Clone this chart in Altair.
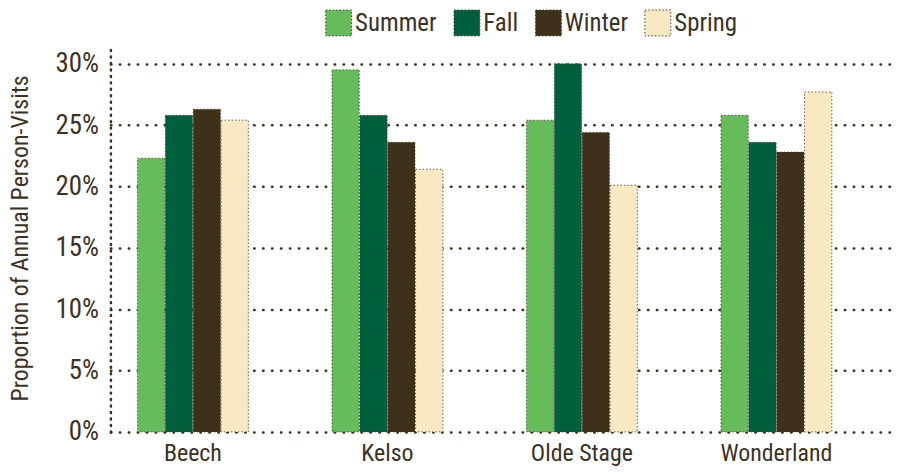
import altair as alt
import pandas as pd

sites = ["Beech", "Kelso", "Olde Stage", "Wonderland"]
seasons = ["Summer", "Fall", "Winter", "Spring"]
summer = [0.223, 0.295, 0.254, 0.258]
fall = [0.258, 0.258, 0.300, 0.236]
winter = [0.263, 0.236, 0.244, 0.228]
spring = [0.254, 0.214, 0.201, 0.277]
colors = ["#66bb5a", "#00603d", "#3f3019", "#f8e9c3"]

rows = []
for season, vals in zip(seasons, [summer, fall, winter, spring]):
    for site, v in zip(sites, vals):
        rows.append({"site": site, "season": season, "value": v})
df = pd.DataFrame(rows)

FONT = "Roboto Condensed, Liberation Sans Narrow, DejaVu Sans Condensed, sans-serif"
TXT = "#3d3222"

chart = alt.Chart(df).mark_bar(
    stroke="#4a3c2c", strokeWidth=1, strokeDash=[1.5, 2], strokeOpacity=0.8
).encode(
    x=alt.X("site:N", sort=sites, title=None,
            scale=alt.Scale(paddingInner=0.43, paddingOuter=0.232, align=0.3),
            axis=alt.Axis(labelAngle=0, ticks=False, domain=False, labelPadding=10,
                          labelFontSize=24)),
    xOffset=alt.XOffset("season:N", sort=seasons, scale=alt.Scale(paddingInner=0.02)),
    y=alt.Y("value:Q", title="Proportion of Annual Person-Visits",
            scale=alt.Scale(domain=[0, 0.316], nice=False),
            axis=alt.Axis(format=".0%", values=[0, 0.05, 0.1, 0.15, 0.2, 0.25, 0.3],
                          ticks=False, labelPadding=12, titlePadding=23,
                          labelFontSize=27, titleFontSize=24,
                          domain=True, domainDash=[1, 5.5], domainWidth=2.5,
                          domainCap="round", domainColor=TXT)),
    color=alt.Color("season:N", sort=seasons,
                    scale=alt.Scale(domain=seasons, range=colors),
                    legend=alt.Legend(title=None, orient="none", direction="horizontal",
                                      legendX=216, legendY=-35,
                                      symbolType="square", symbolSize=676,
                                      symbolStrokeColor="#4a3c2c", symbolStrokeWidth=1,
                                      symbolDash=[1.5, 2], labelFontSize=25,
                                      labelFont=FONT, labelColor=TXT,
                                      columnPadding=14, labelOffset=3)),
).properties(
    width=789, height=390,
    padding={"left": 0, "top": 0, "right": 0, "bottom": 0},
).configure_view(
    stroke=None
).configure_axis(
    labelFont=FONT, titleFont=FONT,
    labelColor=TXT, titleColor=TXT, titleFontWeight="normal",
    gridDash=[0.5, 8.5], gridWidth=2.5, gridCap="round", gridColor=TXT,
).configure_axisX(
    grid=False
)

chart.save("out.html", embed_options={"renderer": "svg", "actions": False})
